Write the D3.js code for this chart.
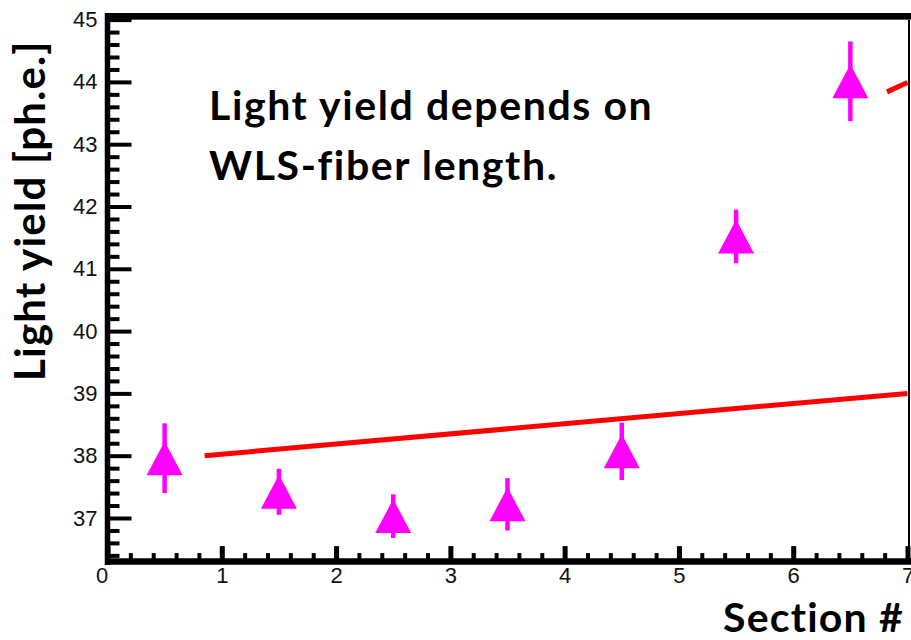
<!DOCTYPE html>
<html>
<head>
<meta charset="utf-8">
<script src="https://cdn.jsdelivr.net/npm/d3@7"></script>
<style>
  body { margin: 0; background: #fff; }
  svg { display: block; }
</style>
</head>
<body>
<svg></svg>
<script>
const width = 911;
const height = 640;

// measured values, one per section
const sections = [0.5, 1.5, 2.5, 3.5, 4.5, 5.5, 6.5];
const lightYield = [37.96, 37.42, 37.03, 37.22, 38.07, 41.52, 44.01];
const yieldErr = [0.56, 0.37, 0.35, 0.42, 0.46, 0.43, 0.64];

// fit lines (solid one plus the piece of the other entering at top right)
const fitX = [0.85, 7];
const fitY = [38.0, 39.0];
const fit2X = [6.82, 7];
const fit2Y = [43.84, 43.99];

const xTicks = [0, 1, 2, 3, 4, 5, 6, 7];
const yTicks = [37, 38, 39, 40, 41, 42, 43, 44, 45];

const x = d3.scaleLinear().domain([0, 7]).range([107.5, 907.5]);
const y = d3.scaleLinear().domain([36.3, 45]).range([561.6, 19.6]);

const xMinor = d3.range(0.2, 7, 0.2).filter(v => Math.abs(v - Math.round(v)) > 1e-6);
const yMinor = d3.range(36.4, 45, 0.2).filter(v => Math.abs(v - Math.round(v)) > 1e-6);

let svg = d3.select("svg")
    .attr("width", width)
    .attr("height", height)

// frame: thin right border, thick top line
svg.append("line")
    .attr("x1", 909).attr("x2", 909)
    .attr("y1", 14).attr("y2", 562)
    .attr("stroke", "#000").attr("stroke-width", 2)
svg.append("line")
    .attr("x1", 105).attr("x2", width)
    .attr("y1", 16).attr("y2", 16)
    .attr("stroke", "#000").attr("stroke-width", 6)
svg.append("line")
    .attr("x1", 105).attr("x2", width)
    .attr("y1", 19.5).attr("y2", 19.5)
    .attr("stroke", "#555").attr("stroke-width", 1)

// y axis
svg.append("g")
    .attr("transform", `translate(${x(0)}, 0)`)
    .call(d3.axisLeft(y).tickValues(yMinor).tickSizeInner(-12).tickSizeOuter(0).tickFormat(""))
    .call(g => g.select(".domain").remove())
    .call(g => g.selectAll("line").attr("stroke", "#000").attr("stroke-width", 4))
svg.append("g")
    .attr("transform", `translate(${x(0)}, 0)`)
    .call(d3.axisLeft(y).tickValues(yTicks).tickSizeInner(-24).tickSizeOuter(0).tickPadding(10).tickFormat(d3.format("d")))
    .call(g => g.select(".domain").remove())
    .call(g => g.selectAll("line").attr("stroke", "#000").attr("stroke-width", 4))
    .call(g => g.selectAll("text")
        .attr("fill", "#111")
        .style("font-family", "'Liberation Sans', Arial, sans-serif")
        .style("font-size", "22px"))

// x axis
svg.append("g")
    .attr("transform", `translate(0, ${y(36.3)})`)
    .call(d3.axisBottom(x).tickValues(xMinor).tickSizeInner(-8.5).tickSizeOuter(0).tickFormat(""))
    .call(g => g.select(".domain").remove())
    .call(g => g.selectAll("line").attr("stroke", "#000").attr("stroke-width", 4))
svg.append("g")
    .attr("transform", `translate(0, ${y(36.3)})`)
    .call(d3.axisBottom(x).tickValues(xTicks).tickSizeInner(-15.5).tickSizeOuter(0).tickPadding(6).tickFormat(d3.format("d")))
    .call(g => g.select(".domain").remove())
    .call(g => g.selectAll("line").attr("stroke", "#000").attr("stroke-width", 5))
    .call(g => g.selectAll("text")
        .attr("fill", "#111")
        .attr("dx", d => d === 0 ? -6 : 0)
        .style("font-family", "'Liberation Sans', Arial, sans-serif")
        .style("font-size", "22px"))

// thick axis lines
svg.append("line")
    .attr("x1", x(0)).attr("x2", x(0))
    .attr("y1", 13).attr("y2", 565)
    .attr("stroke", "#000").attr("stroke-width", 5.5)
svg.append("line")
    .attr("x1", 105).attr("x2", width)
    .attr("y1", y(36.3)).attr("y2", y(36.3))
    .attr("stroke", "#000").attr("stroke-width", 6.5)

// fit lines
const line = d3.line().x(d => x(d[0])).y(d => y(d[1]));
svg.append("path")
    .datum(d3.zip(fitX, fitY))
    .attr("d", line)
    .attr("fill", "none")
    .attr("stroke", "#ff0000")
    .attr("stroke-width", 5)
svg.append("path")
    .datum(d3.zip(fit2X, fit2Y))
    .attr("d", line)
    .attr("fill", "none")
    .attr("stroke", "#ff0000")
    .attr("stroke-width", 5)

// points with error bars
const pts = sections.map((s, i) => ({ s, v: lightYield[i], e: yieldErr[i] }));
const magenta = "#ff00ff";
svg.append("g").selectAll("line")
    .data(pts)
    .enter().append("line")
    .attr("x1", d => x(d.s)).attr("x2", d => x(d.s))
    .attr("y1", d => y(d.v + d.e)).attr("y2", d => y(d.v - d.e))
    .attr("stroke", magenta)
    .attr("stroke-width", 4.5)
svg.append("g").selectAll("path")
    .data(pts)
    .enter().append("path")
    .attr("d", d => {
        const cx = x(d.s), cy = y(d.v);
        return `M${cx - 18},${cy + 17}L${cx + 18},${cy + 17}L${cx},${cy - 17}Z`;
    })
    .attr("fill", magenta)

// titles
const bold = "Lato, 'Open Sans', sans-serif";
function boldText(sel, size, spacing) {
    return sel.style("font-family", bold)
        .style("font-weight", "bold")
        .style("font-size", size + "px")
        .style("letter-spacing", spacing + "px")
        .attr("fill", "#000")
}

svg.append("text")
    .attr("transform", "translate(45, 381) rotate(-90)")
    .call(boldText, 42, 1.2)
    .text("Light yield [ph.e.]")

svg.append("text")
    .attr("x", 904)
    .attr("y", 632)
    .style("text-anchor", "end")
    .call(boldText, 41, 1.2)
    .text("Section #")

svg.append("text")
    .attr("x", 209)
    .attr("y", 120)
    .call(boldText, 41, 1.6)
    .text("Light yield depends on")
svg.append("text")
    .attr("x", 209)
    .attr("y", 180)
    .call(boldText, 41, 1.6)
    .text("WLS-fiber length.")
</script>
</body>
</html>
